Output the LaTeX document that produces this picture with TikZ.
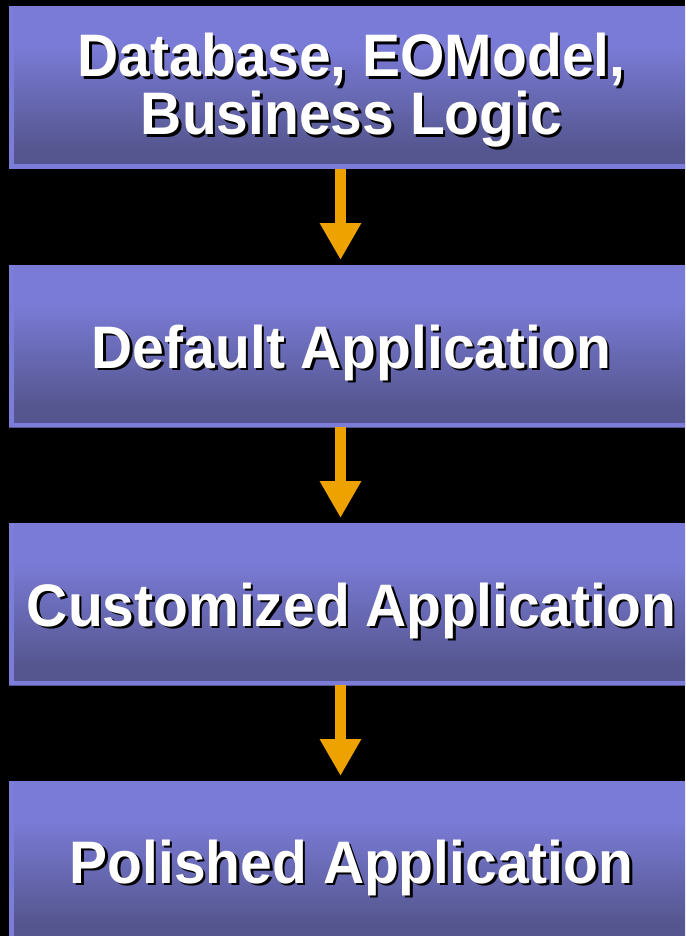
\documentclass[tikz,border=0pt]{standalone}
\usepackage{fontspec}
\setmainfont{Liberation Sans}
\newfontfamily\headfont[FakeStretch=0.95]{Liberation Sans}
\usetikzlibrary{arrows.meta}
\definecolor{boxtop}{HTML}{7A7BD6}
\definecolor{boxbot}{HTML}{55568F}
\definecolor{boxedge}{HTML}{7B7DD8}
\definecolor{arrorange}{HTML}{EEA200}
\pgfdeclareverticalshading{boxshade}{100bp}{color(0bp)=(boxbot); color(31bp)=(boxbot); color(63bp)=(boxtop); color(100bp)=(boxtop)}
\newcommand{\dropshadowed}[1]{\makebox[0pt][l]{\kern2.5pt\raisebox{-2.5pt}{\color{black}#1}}#1}
\begin{document}
\begin{tikzpicture}[x=1pt,y=1pt,
  stagebox/.style={minimum width=685pt, minimum height=162pt, inner sep=0pt, outer sep=0pt, shading=boxshade, anchor=north west},
  boxrim/.style={fill=boxedge},
  label/.style={font=\headfont\fontsize{60}{62}\selectfont\bfseries, text=white, anchor=base, inner sep=0pt, outer sep=0pt},
  flow/.style={draw=arrorange, line width=11pt, -{Triangle[width=39pt,length=37pt,fill=arrorange]}, shorten >=5pt}]
\useasboundingbox (0,0) rectangle (685,-936);
\fill[black] (0,0) rectangle (685,-936);
\clip (0,0) rectangle (685,-936);
% boxes
\node[stagebox] (b1) at (9,-7) {};
\node[stagebox] (b2) at (9,-265) {};
\node[stagebox] (b3) at (9,-523) {};
\node[stagebox] (b4) at (9,-781) {};
% rims (left and bottom)
\foreach \b in {b1,b2,b3,b4}{
  \fill[boxrim] (\b.south west) rectangle ([xshift=5pt]\b.north west);
  \fill[boxrim] (\b.south west) rectangle ([yshift=4.5pt]\b.south east);
}
% connectors
\coordinate (ax) at (340.5,0);
\draw[flow] (b1.south -| ax) -- (b2.north -| ax);
\draw[flow] (b2.south -| ax) -- (b3.north -| ax);
\draw[flow] (b3.south -| ax) -- (b4.north -| ax);
% labels with drop shadows
\node[label] (t1a) at (351.5,-77) {\dropshadowed{Database, EOModel,}};
\node[label] (t1b) at (351.5,-135) {\dropshadowed{Business Logic}};
\node[label] (t2) at (351.5,-368) {\dropshadowed{Default Application}};
\node[label] (t3) at (351.5,-626) {\dropshadowed{Customized Application}};
\node[label] (t4) at (351.5,-883) {\dropshadowed{Polished Application}};
\end{tikzpicture}
\end{document}
